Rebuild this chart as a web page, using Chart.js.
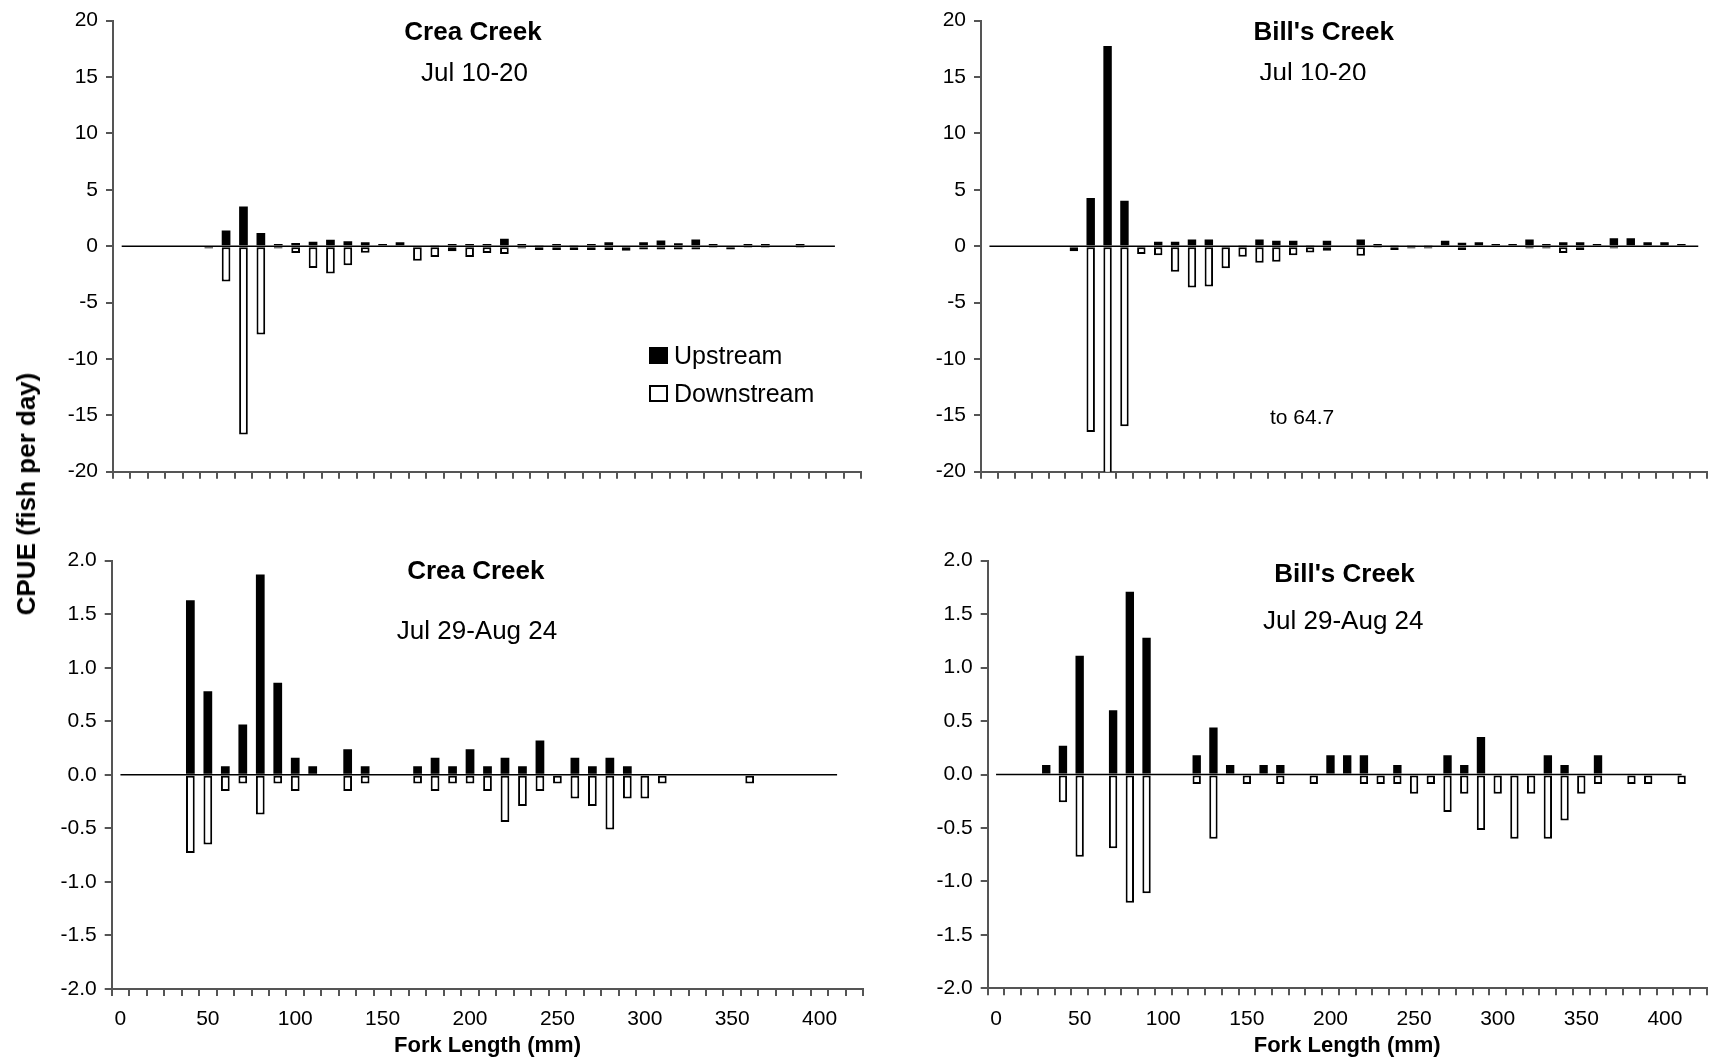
<!DOCTYPE html>
<html>
<head>
<meta charset="utf-8">
<script src="https://cdn.jsdelivr.net/npm/chart.js@4.4.1/dist/chart.umd.min.js"></script>
<style>
html,body{margin:0;padding:0;background:#fff;}
#wrap{position:relative;width:1711px;height:1061px;overflow:hidden;background:#fff;font-family:"Liberation Sans",Arial,sans-serif;color:#000;}
canvas{position:absolute;}
.t{position:absolute;white-space:nowrap;line-height:1;}
.c{transform:translateX(-50%);}
.b{font-weight:bold;}
.clip{position:absolute;overflow:hidden;}
</style>
</head>
<body>
<div id="wrap">
  <canvas id="tl"></canvas>
  <canvas id="tr"></canvas>
  <canvas id="bl"></canvas>
  <canvas id="br"></canvas>

  <div class="t c b" style="left:473px;top:18px;font-size:26px;">Crea Creek</div>
  <div class="t c" style="left:474.5px;top:59px;font-size:26px;">Jul 10-20</div>

  <div class="t c b" style="left:1323.7px;top:18px;font-size:26px;">Bill's Creek</div>
  <div class="clip" style="left:1200px;top:50px;width:230px;height:30px;">
    <div class="t c" style="left:113px;top:9px;font-size:26px;">Jul 10-20</div>
  </div>

  <div class="t c b" style="left:475.8px;top:557.3px;font-size:26px;">Crea Creek</div>
  <div class="t c" style="left:477px;top:617px;font-size:26px;">Jul 29-Aug 24</div>

  <div class="t c b" style="left:1344.5px;top:559.7px;font-size:26px;">Bill's Creek</div>
  <div class="t c" style="left:1343.3px;top:607.3px;font-size:26px;">Jul 29-Aug 24</div>

  <div style="position:absolute;left:649px;top:347px;width:19px;height:17px;background:#000;"></div>
  <div class="t" style="left:674px;top:342.8px;font-size:25px;">Upstream</div>
  <div style="position:absolute;left:649px;top:385px;width:19px;height:17px;background:#fff;border:2px solid #000;box-sizing:border-box;"></div>
  <div class="t" style="left:674px;top:381.1px;font-size:25px;">Downstream</div>

  <div class="t" style="left:1270px;top:406.2px;font-size:21px;">to 64.7</div>

  <div class="t b" style="left:26px;top:494px;font-size:26px;transform:translate(-50%,-50%) rotate(-90deg);">CPUE (fish per day)</div>
</div>

<script>
// ---------------- DATA ----------------
const forkLength = [0,10,20,30,40,50,60,70,80,90,100,110,120,130,140,150,160,170,180,190,200,
                    210,220,230,240,250,260,270,280,290,300,310,320,330,340,350,360,370,380,390,400,410,420];

// Crea Creek, Jul 10-20
const creaJul10Up = [null,null,null,null,null,null,1.38,3.52,1.17,0.2,0.29,0.38,0.56,0.44,0.35,0.2,0.35,null,0.1,0.2,0.2,
                     0.2,0.65,0.2,0.1,0.2,0.1,0.2,0.35,null,0.35,0.5,0.25,0.6,0.2,null,0.2,0.2,null,0.2,null,null,null];
const creaJul10Down = [null,null,null,null,null,-0.2,-3.14,-16.7,-7.83,-0.2,-0.6,-1.94,-2.43,-1.7,-0.59,-0.1,-0.1,-1.3,-0.97,-0.45,-0.97,
                       -0.6,-0.7,-0.2,-0.35,-0.35,-0.35,-0.35,-0.35,-0.4,-0.3,-0.3,-0.3,-0.3,-0.15,-0.3,-0.15,-0.15,null,-0.15,null,null,null];

// Bill's Creek, Jul 10-20
const billsJul10Up = [null,null,null,null,null,null,4.28,17.74,4.02,null,0.38,0.38,0.6,0.6,null,0.1,0.6,0.47,0.47,0.1,0.47,
                      null,0.6,0.2,0.1,0.1,0.1,0.47,0.3,0.35,0.2,0.2,0.6,0.2,0.35,0.35,0.2,0.7,0.7,0.35,0.35,0.2,null];
const billsJul10Down = [null,null,null,null,null,-0.45,-16.48,-64.7,-15.98,-0.7,-0.8,-2.26,-3.67,-3.58,-1.97,-0.94,-1.47,-1.38,-0.8,-0.56,-0.41,
                        null,-0.85,-0.15,-0.35,-0.2,-0.2,-0.1,-0.35,-0.1,-0.1,-0.1,-0.2,-0.2,-0.6,-0.35,-0.1,-0.2,-0.1,-0.1,-0.1,-0.1,null];

// Crea Creek, Jul 29-Aug 24
const creaJul29Up = [null,null,null,null,1.63,0.78,0.08,0.47,1.87,0.86,0.16,0.08,null,0.24,0.08,null,null,0.08,0.16,0.08,0.24,
                     0.08,0.16,0.08,0.32,null,0.16,0.08,0.16,0.08,null,null,null,null,null,null,null,null,null,null,null,null,null];
const creaJul29Down = [null,null,null,null,-0.73,-0.65,-0.15,-0.08,-0.37,-0.08,-0.15,null,null,-0.15,-0.08,null,null,-0.08,-0.15,-0.08,-0.08,
                       -0.15,-0.44,-0.29,-0.15,-0.08,-0.22,-0.29,-0.51,-0.22,-0.22,-0.08,null,null,null,null,-0.08,null,null,null,null,null,null];

// Bill's Creek, Jul 29-Aug 24
const billsJul29Up = [null,null,null,0.09,0.27,1.11,null,0.6,1.71,1.28,null,null,0.18,0.44,0.09,null,0.09,0.09,null,null,0.18,
                      0.18,0.18,null,0.09,null,null,0.18,0.09,0.35,null,null,null,0.18,0.09,null,0.18,null,null,null,null,null,null];
const billsJul29Down = [null,null,null,null,-0.26,-0.77,null,-0.69,-1.2,-1.11,null,null,-0.09,-0.6,null,-0.09,null,-0.09,null,-0.09,null,
                        null,-0.09,-0.09,-0.09,-0.18,-0.09,-0.35,-0.18,-0.52,-0.18,-0.6,-0.18,-0.6,-0.43,-0.18,-0.09,null,-0.09,-0.09,null,-0.09,null];

const topTicks = {min:-20, max:20, step:5, decimals:0};
const bottomTicks = {min:-2, max:2, step:0.5, decimals:1};

// ---------------- CHARTS ----------------
Chart.defaults.font.family = '"Liberation Sans", Arial, sans-serif';
Chart.defaults.font.size = 21;
Chart.defaults.color = '#000';

const axisColor = '#555';

function makePanel(id, box, area, up, down, zeroUntil, yt, showX) {
  const cv = document.getElementById(id);
  cv.width = box.w; cv.height = box.h;
  cv.style.left = box.x + 'px'; cv.style.top = box.y + 'px';
  cv.style.width = box.w + 'px'; cv.style.height = box.h + 'px';
  const zero = forkLength.map(v => v <= zeroUntil ? 0 : null);
  new Chart(cv, {
    type: 'bar',
    data: {
      labels: forkLength,
      datasets: [
        {type:'line', data: zero, borderColor:'#000', borderWidth:1.5, pointRadius:0, fill:false, order:0, stack:'zero'},
        {label:'Upstream', data: up, backgroundColor:'#000', borderColor:'#000', borderWidth:0, order:1,
         barPercentage:0.5, categoryPercentage:1.0},
        {label:'Downstream', data: down, backgroundColor:'#fff', borderColor:'#000', borderWidth:2, borderSkipped:false, order:1,
         barPercentage:0.5, categoryPercentage:1.0}
      ]
    },
    options: {
      responsive:false, animation:false, devicePixelRatio:1,
      layout:{padding:{left:0, top: area.t - box.y, right: box.x + box.w - area.r, bottom:0}},
      plugins:{legend:{display:false}, tooltip:{enabled:false}, title:{display:false}},
      scales:{
        x:{
          stacked:true, offset:true,
          grid:{display:true, offset:true, drawOnChartArea:false, drawTicks:true, tickLength:7,
                tickColor:axisColor, tickWidth:2, color:axisColor, lineWidth:2},
          border:{display:true, color:axisColor, width:2},
          ticks:{autoSkip:false, maxRotation:0, minRotation:0, padding:11,
                 callback:function(value){ const v = Number(this.getLabelForValue(value)); return (showX && v % 50 === 0) ? String(v) : ''; }},
          title:{display:showX, text:'Fork Length (mm)', font:{size:22, weight:'bold'}, color:'#000', padding:{top:0,bottom:2}},
          afterFit:function(s){ s.height = box.y + box.h - area.b; }
        },
        y:{
          min:yt.min, max:yt.max,
          grid:{display:true, drawOnChartArea:false, drawTicks:true, tickLength:7,
                tickColor:axisColor, tickWidth:2, color:axisColor, lineWidth:2},
          border:{display:true, color:axisColor, width:2},
          ticks:{stepSize:yt.step, padding:8, autoSkip:false,
                 callback:function(v){ const n = Math.abs(v) < 1e-9 ? 0 : v; return n.toFixed(yt.decimals); }},
          afterFit:function(s){ s.width = area.l - box.x; }
        }
      }
    }
  });
}

makePanel('tl', {x:0, y:0, w:890, h:500},    {l:113,   r:861,    t:17,    b:471.7}, creaJul10Up,  creaJul10Down,  410, topTicks, false);
makePanel('tr', {x:890, y:0, w:821, h:500},  {l:981,   r:1706.7, t:17,    b:471.7}, billsJul10Up, billsJul10Down, 420, topTicks, false);
makePanel('bl', {x:0, y:520, w:890, h:541},  {l:111.7, r:863.3,  t:560.7, b:989},   creaJul29Up,  creaJul29Down,  410, bottomTicks, true);
makePanel('br', {x:890, y:520, w:821, h:541},{l:987.7, r:1706.7, t:560.7, b:988.3}, billsJul29Up, billsJul29Down, 410, bottomTicks, true);
</script>
</body>
</html>
